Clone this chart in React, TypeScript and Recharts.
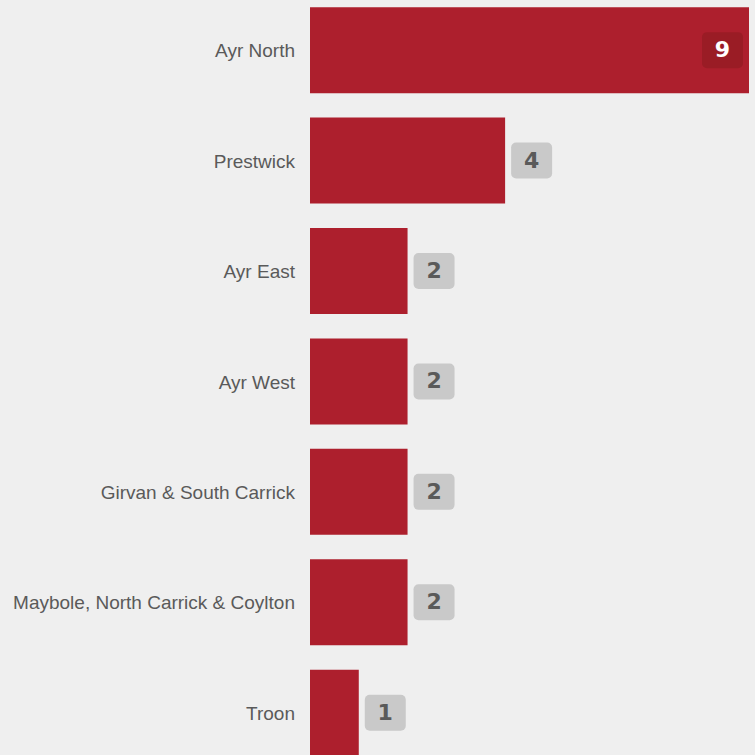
import { BarChart, Bar, XAxis, YAxis, LabelList } from "recharts";

const wards = [
  "Ayr North",
  "Prestwick",
  "Ayr East",
  "Ayr West",
  "Girvan & South Carrick",
  "Maybole, North Carrick & Coylton",
  "Troon",
];
const counts = [9, 4, 2, 2, 2, 2, 1];

const data = wards.map((name, i) => ({ name, count: counts[i] }));
const maxCount = 9;

function ValueBadge(props: any) {
  const { x, y, width, height, value } = props;
  const boxW = 41;
  const boxH = 36;
  const inside = value === maxCount;
  const bx = inside ? x + width - 6 - boxW : x + width + 6;
  const by = y + height / 2 - boxH / 2;
  return (
    <g>
      <rect
        x={bx}
        y={by}
        width={boxW}
        height={boxH}
        rx={5}
        fill={inside ? "#9a1c25" : "#c9c9c9"}
      />
      <text
        x={bx + boxW / 2}
        y={by + boxH / 2 + 1}
        textAnchor="middle"
        dominantBaseline="middle"
        fontFamily="'DejaVu Sans', Verdana, sans-serif"
        fontWeight="bold"
        fontSize={22}
        fill={inside ? "#ffffff" : "#5a5a5a"}
      >
        {value}
      </text>
    </g>
  );
}

function WardTick(props: any) {
  const { x, y, payload } = props;
  return (
    <text
      x={x - 7}
      y={y + 2}
      textAnchor="end"
      dominantBaseline="middle"
      fontFamily="'Liberation Sans', Arial, sans-serif"
      fontSize={19}
      fill="#5a5a5a"
    >
      {payload.value}
    </text>
  );
}

export default function App() {
  return (
    <div
      style={{
        position: "fixed",
        top: 0,
        left: 0,
        width: 755,
        height: 755,
        overflow: "hidden",
        background: "#efefef",
      }}
    >
      <div style={{ position: "absolute", top: -5, left: 0 }}>
        <BarChart
          width={755}
          height={773}
          data={data}
          layout="vertical"
          margin={{ top: 0, right: 6, bottom: 0, left: 0 }}
          barCategoryGap="11%"
        >
          <XAxis type="number" domain={[0, maxCount]} hide />
          <YAxis
            type="category"
            dataKey="name"
            width={310}
            axisLine={false}
            tickLine={false}
            tick={<WardTick />}
            interval={0}
          />
          <Bar dataKey="count" fill="#ad1f2d" isAnimationActive={false}>
            <LabelList dataKey="count" content={<ValueBadge />} />
          </Bar>
        </BarChart>
      </div>
    </div>
  );
}
